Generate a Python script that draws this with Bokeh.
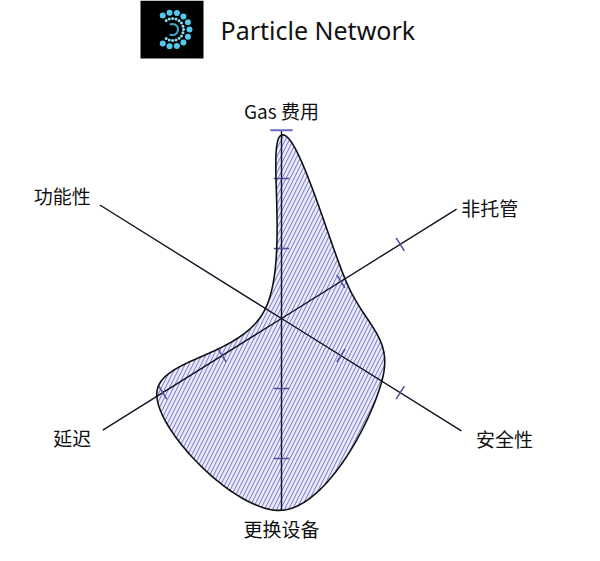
import numpy as np
from bokeh.plotting import figure
from bokeh.models import Range1d, ColumnDataSource
from bokeh.core.properties import value
from bokeh.embed import file_html
from bokeh.resources import INLINE

# ---- data ----
categories = ["Gas 费用", "非托管", "安全性", "更换设备", "延迟", "功能性"]
values = [2.62, 1.07, 1.69, 2.74, 2.10, 0.27]
tick_values = [1, 2]
title_text = "Particle Network"

# ---- layout / style ----
W, H = 584, 545
PX = 70.0            # pixels per unit
CX, CY = 281, 318    # radar centre inside the frame (px from left / top)
axis_angles_deg = [90, 32, -32, -90, 212, 148]
axis_lengths = [2.69, 2.95, 3.03, 2.74, 3.01, 3.06]
axis_ticked = [True, True, True, True, True, False]
label_angles_deg = [90, 28, -28.3, -90, 209.7, 150.7]
label_radius = [2.97, 3.37, 3.62, 3.0, 3.44, 3.59]
TANGENT = 0.58
CJK = "Noto Sans CJK SC"


def gx(px):   # frame px -> data x
    return (px - CX) / PX


def gy(py):   # frame px -> data y
    return (CY - py) / PX


p = figure(width=W, height=H, output_backend="svg", toolbar_location=None,
           x_range=Range1d(-CX / PX, (W - CX) / PX),
           y_range=Range1d(-(H - CY) / PX, CY / PX),
           x_axis_location=None, y_axis_location=None, min_border=0)
p.grid.visible = False
p.outline_line_color = None
p.background_fill_color = "white"

ang = np.radians(axis_angles_deg)
cos, sin = np.cos(ang), np.sin(ang)

# ---- radar polygon (closed cardinal spline through data points) ----
pts = np.column_stack([np.array(values) * cos, np.array(values) * sin])


def cardinal_closed(P, k=0.5, n=60):
    m = len(P)
    out = []
    t = np.linspace(0, 1, n, endpoint=False)[:, None]
    h00 = 2 * t**3 - 3 * t**2 + 1
    h10 = t**3 - 2 * t**2 + t
    h01 = -2 * t**3 + 3 * t**2
    h11 = t**3 - t**2
    for i in range(m):
        p0, p1, p2, p3 = P[(i - 1) % m], P[i], P[(i + 1) % m], P[(i + 2) % m]
        m1 = k * (p2 - p0)
        m2 = k * (p3 - p1)
        out.append(h00 * p1 + h10 * m1 + h01 * p2 + h11 * m2)
    return np.vstack(out)


curve = cardinal_closed(pts, TANGENT)
p.patch(curve[:, 0], curve[:, 1], fill_color="#eaeafa", fill_alpha=0.9,
        hatch_pattern="/", hatch_color="#7474c8", hatch_alpha=0.85,
        hatch_scale=8, hatch_weight=1.1, line_color=None)

# ---- axes ----
L = np.array(axis_lengths)
p.segment(x0=np.zeros(6), y0=np.zeros(6), x1=L * cos, y1=L * sin,
          line_color="#111122", line_width=1.4)

# ticks
tx0, ty0, tx1, ty1 = [], [], [], []
half = 0.11
for i in range(6):
    if not axis_ticked[i]:
        continue
    for t in tick_values:
        cx_, cy_ = t * cos[i], t * sin[i]
        nx, ny = -sin[i], cos[i]
        tx0.append(cx_ - half * nx); ty0.append(cy_ - half * ny)
        tx1.append(cx_ + half * nx); ty1.append(cy_ + half * ny)
p.segment(x0=tx0, y0=ty0, x1=tx1, y1=ty1, line_color="#4d4d99", line_width=1.5)
# cap on the top axis
p.segment(x0=[-0.16], y0=[L[0]], x1=[0.16], y1=[L[0]], line_color="#6a6ac2", line_width=2)

# outline on top
p.line(np.append(curve[:, 0], curve[0, 0]), np.append(curve[:, 1], curve[0, 1]),
       line_color="#111111", line_width=1.6)

# ---- labels ----
la = np.radians(label_angles_deg)
lr = np.array(label_radius)
src = ColumnDataSource(dict(x=lr * np.cos(la), y=lr * np.sin(la), text=categories))
p.text(x="x", y="y", text="text", source=src, text_align="center",
       text_baseline="middle", text_font=value(CJK), text_font_size="19px",
       text_color="#111111")

# ---- title + logo ----
p.text(x=[gx(220)], y=[gy(29)], text=[title_text], text_align="left",
       text_baseline="middle", text_font=value("Noto Sans"), text_font_size="25px",
       text_color="#111111")

p.rect(x=[gx(171.5)], y=[gy(29)], width=63 / PX, height=58 / PX,
       fill_color="black", line_color=None)
lcx, lcy = gx(172), gy(29)
oa = np.radians(np.linspace(125, -125, 11))
p.scatter(lcx + 17 / PX * np.cos(oa), lcy + 17 / PX * np.sin(oa), size=6,
          fill_color="#56c8ee", line_color=None)
ia = np.radians(np.linspace(125, -125, 15))
p.scatter(lcx + 11 / PX * np.cos(ia), lcy + 11 / PX * np.sin(ia), size=3,
          fill_color="#8fdcf5", line_color=None)
p.arc(x=[lcx], y=[lcy], radius=5.5 / PX, start_angle=np.radians(-120),
      end_angle=np.radians(120), line_color="#3fa6c4", line_width=2)

open("out.html", "w").write(file_html(p, INLINE))
